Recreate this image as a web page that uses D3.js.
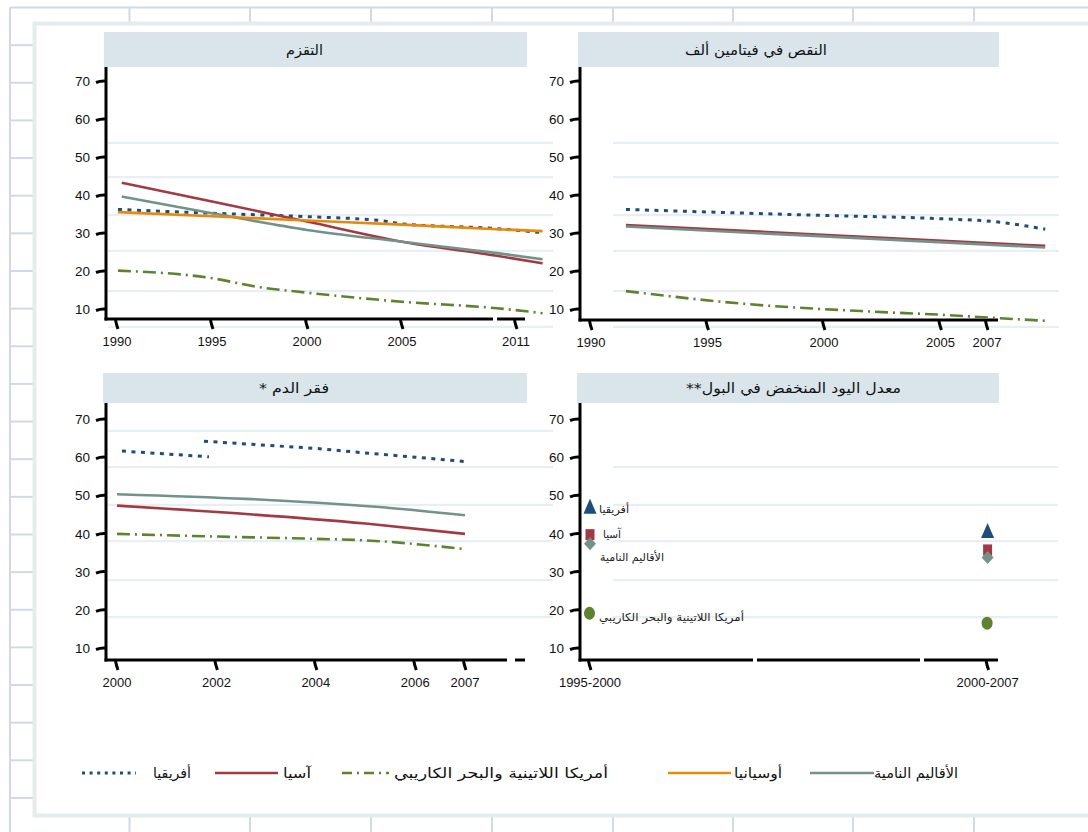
<!DOCTYPE html>
<html><head><meta charset="utf-8">
<script src="https://cdn.jsdelivr.net/npm/d3@7"></script>
<style>body{margin:0;background:#fff}svg{display:block}</style>
</head><body>
<svg id="c" width="1088" height="832"></svg>
<script>
// ---------- data ----------
const regionNames = ["أفريقيا", "آسيا", "أمريكا اللاتينية والبحر الكاريبي", "أوسيانيا", "الأقاليم النامية"];
const panelTitles = ["التقزم", "النقص في فيتامين ألف", "فقر الدم *", "معدل اليود المنخفض في البول**"];
const yTickValues = [10, 20, 30, 40, 50, 60, 70];
const stuntingTicks = [1990, 1995, 2000, 2005, 2011];
const vitaminTicks = [1990, 1995, 2000, 2005, 2007];
const anemiaTicks = [2000, 2002, 2004, 2006, 2007];
const iodinePeriods = ["1995-2000", "2000-2007"];

// stunting (%)
const stuntingAfrica = [[1990.05, 36.2], [1995, 35.2], [2000, 34.3], [2004, 33.2], [2005, 32.4], [2009.8, 31.2], [2012.4, 30.1]];
const stuntingAsia = [[1990.25, 43.2], [1995, 38.3], [2000, 33.0], [2005, 27.7], [2010, 24.0], [2012.4, 22.0]];
const stuntingLatam = [[1990.05, 20.1], [1995, 18.1], [1997.3, 15.9], [2000, 14.3], [2005, 11.9], [2010, 10.2], [2012.4, 8.9]];
const stuntingOceania = [[1990.05, 35.5], [1995, 34.4], [2000, 33.3], [2005, 32.2], [2010, 31.0], [2012.4, 30.5]];
const stuntingDeveloping = [[1990.25, 39.6], [1995, 35.2], [2000, 30.8], [2005, 27.7], [2010, 24.7], [2012.4, 23.1]];

// vitamin A deficiency (%)
const vitaminAfrica = [[1991.5, 36.2], [1999.5, 34.7], [2005.2, 33.7], [2007.3, 33.0], [2009.5, 31.0]];
const vitaminAsia = [[1991.5, 32.1], [2009.5, 26.6]];
const vitaminLatam = [[1991.5, 14.7], [1996.7, 11.3], [2002.1, 9.3], [2005, 8.5], [2007.5, 7.6], [2009.5, 6.9]];
const vitaminDeveloping = [[1991.5, 31.7], [2000, 29.1], [2009.5, 26.2]];

// anaemia (%) — Africa series has a break (null) between two survey rounds
const anemiaAfrica = [[2000.1, 61.6], [2001.85, 60.1], [2001.8, null], [2001.75, 64.2], [2002.9, 63.2], [2004, 62.3], [2004.9, 61.2], [2006, 60.0], [2007.05, 58.8]];
const anemiaAsia = [[2000, 47.3], [2005, 42.6], [2007, 39.9]];
const anemiaLatam = [[2000, 39.9], [2002, 39.2], [2004, 38.6], [2005, 38.2], [2007, 35.9]];
const anemiaDeveloping = [[2000, 50.3], [2005.2, 47.0], [2007, 44.8]];

// low urinary iodine (%), per period
const iodineAfrica = [46.5, 40.1];
const iodineAsia = [39.7, 35.7];
const iodineDeveloping = [37.3, 33.7];
const iodineLatam = [19.1, 16.5];

// faint background guide lines (values)
const topGuides = [53.7, 44.7, 34.7, 25.3, 14.7, 5.3];
const anemiaGuides = [66.9, 57.4, 47.5, 38.0, 27.8, 18.1];
const iodineGuides = [57.4, 47.5, 38.0, 27.8, 18.1];

// ---------- style ----------
const COL = {africa: "#1e4d7b", asia: "#a23a44", latam: "#5e8230", oceania: "#e8890c", developing: "#72928a"};
const DASH = {africa: "4,5.5", latam: "13,5,2,5"};
const AR = "DejaVu Sans, sans-serif";
const NUM = "Liberation Sans, Arial, sans-serif";

const svg = d3.select("#c");

// spreadsheet-like background grid
const g0 = svg.append("g");
const colXs = [10, 129.5, 250, 371, 492, 613, 733, 853, 974];
const rowYs = d3.range(0, 22).map(i => 7.5 + i * 37.64);
g0.selectAll("line.v").data(colXs).join("line")
  .attr("x1", d => d).attr("x2", d => d).attr("y1", 7.5).attr("y2", 832)
  .attr("stroke", "#d2d9e6").attr("stroke-width", 2);
g0.selectAll("line.h").data(rowYs).join("line")
  .attr("x1", 10).attr("x2", d => d === 7.5 ? 1088 : 34).attr("y1", d => d).attr("y2", d => d)
  .attr("stroke", "#d2d9e6").attr("stroke-width", 2);
// chart frame
svg.append("rect").attr("x", 34.5).attr("y", 23.5).attr("width", 1080).attr("height", 792)
  .attr("fill", "#fff").attr("stroke", "#e4ecee").attr("stroke-width", 4);

const panels = [
  {title: panelTitles[0], tc: 304.5, tw: 37, box: [104, 32, 527, 67], ax: 106, ay: 319, xEnd: 525, yr: [309, 81], xd: [1990, 2011], xr: [117, 516], gaps: [[493, 497]], guides: topGuides, gx: [108, 553], ticks: stuntingTicks},
  {title: panelTitles[1], tc: 756, tw: 142, box: [578, 32, 999, 67], ax: 580, ay: 320, xEnd: 998, yr: [309, 81], xd: [1990, 2007], xr: [591, 987], gaps: [], guides: topGuides, gx: [613, 1059], ticks: vitaminTicks},
  {title: panelTitles[2], tc: 294, tw: 70, box: [103, 373, 527, 403], ax: 106, ay: 660, xEnd: 525, yr: [648, 419], xd: [2000, 2007], xr: [117, 465], gaps: [[507, 515]], guides: anemiaGuides, gx: [108, 553], ticks: anemiaTicks},
  {title: panelTitles[3], tc: 793.5, tw: 215, box: [577, 373, 999, 403], ax: 580, ay: 660, xEnd: 998, yr: [648, 419], band: true, xr: [590, 987.6], gaps: [[753, 757], [920, 924]], guides: iodineGuides, gx: [613, 1058], ticks: iodinePeriods}
];

panels.forEach(p => {
  const g = svg.append("g");
  p.y = d3.scaleLinear().domain([10, 70]).range(p.yr);
  p.x = p.band ? d3.scalePoint().domain(p.ticks).range(p.xr) : d3.scaleLinear().domain(p.xd).range(p.xr);
  // guides
  g.selectAll("line.guide").data(p.guides).join("line")
    .attr("x1", p.gx[0]).attr("x2", p.gx[1]).attr("y1", d => p.y(d)).attr("y2", d => p.y(d))
    .attr("stroke", "#e8eff2").attr("stroke-width", 2.2);
  // title
  g.append("rect").attr("x", p.box[0]).attr("y", p.box[1]).attr("width", p.box[2] - p.box[0]).attr("height", p.box[3] - p.box[1])
    .attr("fill", "#d9e5eb");
  g.append("text").attr("x", p.tc).attr("y", (p.box[1] + p.box[3]) / 2 + 5)
    .attr("direction", "rtl").attr("text-anchor", "middle").attr("font-family", AR).attr("font-size", 14)
    .attr("textLength", p.tw).attr("lengthAdjust", "spacingAndGlyphs")
    .attr("fill", "#111").text(p.title);
  // y axis
  g.append("line").attr("x1", p.ax).attr("x2", p.ax).attr("y1", p.box[3]).attr("y2", p.ay + 1.5)
    .attr("stroke", "#000").attr("stroke-width", 3);
  // x axis with gaps
  const segs = [];
  let s = p.ax - 1.5;
  p.gaps.forEach(gp => { segs.push([s, gp[0]]); s = gp[1]; });
  segs.push([s, p.xEnd]);
  g.selectAll("line.xa").data(segs).join("line")
    .attr("x1", d => d[0]).attr("x2", d => d[1]).attr("y1", p.ay).attr("y2", p.ay)
    .attr("stroke", "#000").attr("stroke-width", 3);
  // y ticks
  g.selectAll("path.yt").data(yTickValues).join("path")
    .attr("d", d => `M${p.ax - 10},${p.y(d) + 1.5} Q${p.ax - 5},${p.y(d) - 0.5} ${p.ax},${p.y(d)}`)
    .attr("fill", "none").attr("stroke", "#000").attr("stroke-width", 3);
  g.selectAll("text.yl").data(yTickValues).join("text")
    .attr("x", p.ax - 16).attr("y", d => p.y(d) + 5).attr("text-anchor", "end")
    .attr("font-family", NUM).attr("font-size", 13.5).attr("fill", "#111").text(d => d);
  // x ticks
  g.selectAll("path.xt").data(p.ticks).join("path")
    .attr("d", d => `M${p.x(d) - 1.5},${p.ay + 1} Q${p.x(d) - 0.5},${p.ay + 6} ${p.x(d) + 1},${p.ay + 10}`)
    .attr("fill", "none").attr("stroke", "#000").attr("stroke-width", 3);
  g.selectAll("text.xl").data(p.ticks).join("text")
    .attr("x", d => p.x(d)).attr("y", p.ay + 27).attr("text-anchor", "middle")
    .attr("font-family", NUM).attr("font-size", 13).attr("fill", "#111").text(d => d);
});

function drawLine(p, data, key, linear) {
  const line = d3.line().defined(d => d[1] != null).x(d => p.x(d[0])).y(d => p.y(d[1]))
    .curve(linear ? d3.curveLinear : d3.curveMonotoneX);
  svg.append("path").datum(data).attr("d", line)
    .attr("fill", "none").attr("stroke", COL[key]).attr("stroke-width", key === "africa" ? 3 : 2.6)
    .attr("stroke-dasharray", DASH[key] || null);
}
const [P1, P2, P3, P4] = panels;
drawLine(P1, stuntingLatam, "latam");
drawLine(P1, stuntingAfrica, "africa");
drawLine(P1, stuntingAsia, "asia");
drawLine(P1, stuntingDeveloping, "developing");
drawLine(P1, stuntingOceania, "oceania");

drawLine(P2, vitaminLatam, "latam");
drawLine(P2, vitaminAfrica, "africa");
drawLine(P2, vitaminAsia, "asia");
drawLine(P2, vitaminDeveloping, "developing");

drawLine(P3, anemiaLatam, "latam");
drawLine(P3, anemiaAfrica, "africa", true);
drawLine(P3, anemiaAsia, "asia");
drawLine(P3, anemiaDeveloping, "developing");

// iodine markers
const gi = svg.append("g");
gi.selectAll("path.tri").data(iodineAfrica).join("path")
  .attr("d", (d, i) => { const x = P4.x(iodinePeriods[i]), y = P4.y(d); return `M${x},${y - 10} L${x + 6.5},${y + 5} L${x - 6.5},${y + 5} Z`; })
  .attr("fill", COL.africa);
gi.selectAll("rect.sq").data(iodineAsia).join("rect")
  .attr("x", (d, i) => P4.x(iodinePeriods[i]) - 4.5).attr("y", d => P4.y(d) - 5.5).attr("width", 9).attr("height", 11)
  .attr("fill", COL.asia);
gi.selectAll("path.dia").data(iodineDeveloping).join("path")
  .attr("d", (d, i) => { const x = P4.x(iodinePeriods[i]), y = P4.y(d); return `M${x},${y - 6.5} L${x + 6},${y} L${x},${y + 6.5} L${x - 6},${y} Z`; })
  .attr("fill", COL.developing);
gi.selectAll("ellipse").data(iodineLatam).join("ellipse")
  .attr("cx", (d, i) => P4.x(iodinePeriods[i]) - 0.5).attr("cy", d => P4.y(d)).attr("rx", 5.5).attr("ry", 6.5)
  .attr("fill", COL.latam);
// annotations next to first period
const annot = [
  {name: regionNames[0], v: iodineAfrica[0], dv: 0, r: 629, w: 30},
  {name: regionNames[1], v: iodineAsia[0], dv: 0.3, r: 621, w: 18},
  {name: regionNames[4], v: iodineDeveloping[0], dv: -3.5, r: 664, w: 64},
  {name: regionNames[2], v: iodineLatam[0], dv: -0.9, r: 744, w: 145}
];
gi.selectAll("text.an").data(annot).join("text")
  .attr("x", d => d.r - d.w / 2)
  .attr("y", d => P4.y(d.v + d.dv) + 4)
  .attr("direction", "rtl").attr("text-anchor", "middle")
  .attr("textLength", d => d.w).attr("lengthAdjust", "spacingAndGlyphs")
  .attr("font-family", AR).attr("font-size", 11).attr("fill", "#222").text(d => d.name);

// legend
const legendItems = [
  {key: "africa", name: regionNames[0], l: [82, 136], t: [153, 191]},
  {key: "asia", name: regionNames[1], l: [215, 278], t: [283, 311]},
  {key: "latam", name: regionNames[2], l: [342, 389], t: [394, 608]},
  {key: "oceania", name: regionNames[3], l: [668, 731], t: [734, 782]},
  {key: "developing", name: regionNames[4], l: [810, 874], t: [874, 958]}
];
const gl = svg.append("g");
gl.selectAll("line").data(legendItems).join("line")
  .attr("x1", d => d.l[0]).attr("x2", d => d.l[1]).attr("y1", 773).attr("y2", 773)
  .attr("stroke", d => COL[d.key]).attr("stroke-width", d => d.key === "africa" ? 3 : 2.6)
  .attr("stroke-dasharray", d => DASH[d.key] === undefined ? null : (d.key === "africa" ? "3,4.6" : "10,5,2,5"));
gl.selectAll("text").data(legendItems).join("text")
  .attr("x", d => (d.t[0] + d.t[1]) / 2).attr("y", 778)
  .attr("direction", "rtl").attr("text-anchor", "middle")
  .attr("textLength", d => d.t[1] - d.t[0]).attr("lengthAdjust", "spacingAndGlyphs")
  .attr("font-family", AR).attr("font-size", 14).attr("fill", "#111").text(d => d.name);
</script>
</body></html>
